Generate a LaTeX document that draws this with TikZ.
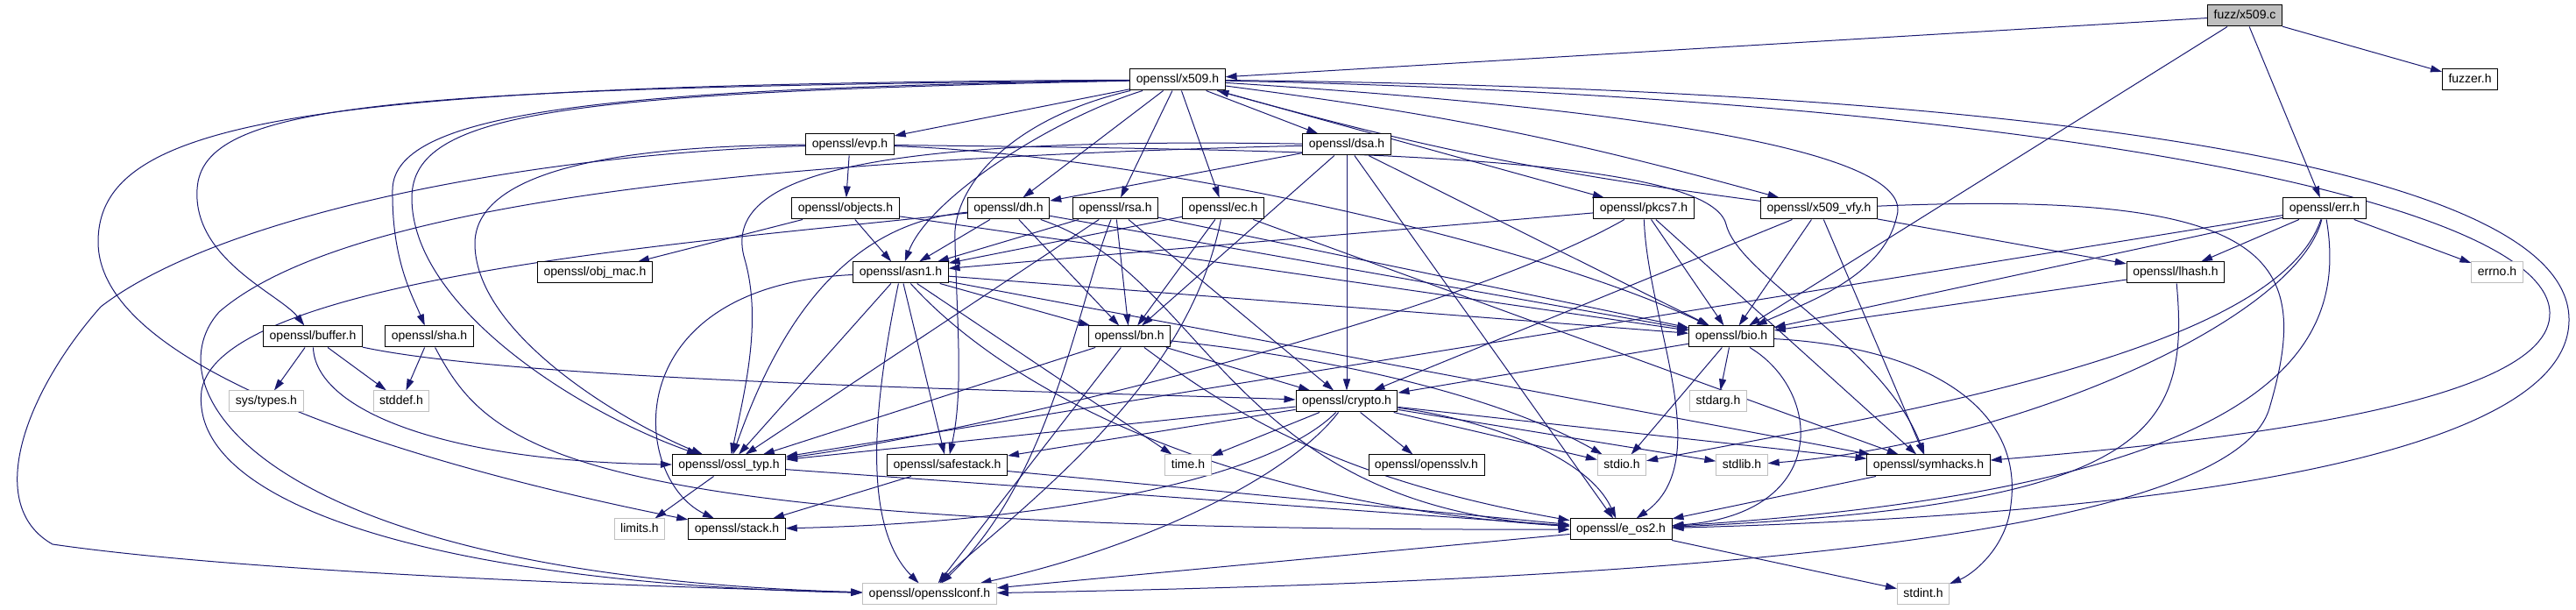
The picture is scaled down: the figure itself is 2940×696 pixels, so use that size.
\documentclass[tikz,border=0pt]{standalone}
\usepackage{fontspec}
\setmainfont{Liberation Sans}
\usetikzlibrary{arrows.meta, backgrounds}
\definecolor{edgeblue}{RGB}{25,25,112}
\definecolor{missgray}{RGB}{191,191,191}

\begin{document}
\begin{tikzpicture}[x=1pt, y=1pt,
    file/.style={draw=black, fill=white, line width=1pt, inner xsep=7pt, inner ysep=0pt,
        minimum height=24pt, text height=10pt, text depth=3pt, font=\fontsize{14}{16}\selectfont},
    sysfile/.style={file, draw=missgray},
    rootfile/.style={file, fill=missgray},
    inc/.style={draw=edgeblue, line width=1pt, -{Triangle[length=13pt, width=8pt]}}]
    \useasboundingbox (0,0) rectangle (2940,696);

    % files, row by row
    \node[rootfile] (fuzzx) at (2562,678) {fuzz/x509.c};
    \node[file] (x509) at (1344,605) {openssl/x509.h};
    \node[file] (fuzzer) at (2819,605) {fuzzer.h};
    \node[file] (evp) at (970,531) {openssl/evp.h};
    \node[file] (dsa) at (1537,531) {openssl/dsa.h};
    \node[file] (objects) at (965,458) {openssl/objects.h};
    \node[file] (dh) at (1151,458) {openssl/dh.h};
    \node[file] (rsa) at (1273,458) {openssl/rsa.h};
    \node[file] (ec) at (1396,458) {openssl/ec.h};
    \node[file] (pkcs7) at (1876,458) {openssl/pkcs7.h};
    \node[file] (xvfy) at (2076,458) {openssl/x509\_vfy.h};
    \node[file] (err) at (2653,458) {openssl/err.h};
    \node[file] (objmac) at (679,385) {openssl/obj\_mac.h};
    \node[file] (asn1) at (1028,385) {openssl/asn1.h};
    \node[file] (lhash) at (2483,385) {openssl/lhash.h};
    \node[sysfile] (errno) at (2850,385) {errno.h};
    \node[file] (buffer) at (357,312) {openssl/buffer.h};
    \node[file] (sha) at (490,312) {openssl/sha.h};
    \node[file] (bn) at (1289,312) {openssl/bn.h};
    \node[file] (bio) at (1976,312) {openssl/bio.h};
    \node[sysfile] (systypes) at (304,238) {sys/types.h};
    \node[sysfile] (stddef) at (458,238) {stddef.h};
    \node[file] (crypto) at (1537,238) {openssl/crypto.h};
    \node[sysfile] (stdarg) at (1961,238) {stdarg.h};
    \node[file] (ossltyp) at (832,165) {openssl/ossl\_typ.h};
    \node[file] (safestack) at (1081,165) {openssl/safestack.h};
    \node[sysfile] (timeh) at (1356,165) {time.h};
    \node[file] (opensslv) at (1628,165) {openssl/opensslv.h};
    \node[sysfile] (stdio) at (1851,165) {stdio.h};
    \node[sysfile] (stdlib) at (1988,165) {stdlib.h};
    \node[file] (symhacks) at (2201,165) {openssl/symhacks.h};
    \node[sysfile] (limits) at (730,92) {limits.h};
    \node[file] (stack) at (841,92) {openssl/stack.h};
    \node[file] (eos2) at (1850,92) {openssl/e\_os2.h};
    \node[sysfile] (conf) at (1061,18) {openssl/opensslconf.h};
    \node[sysfile] (stdint) at (2195,18) {stdint.h};

    \begin{pgfonlayer}{background}
    % fuzz/x509.c
    \draw[inc] (fuzzx) -- (x509);
    \draw[inc] (fuzzx) -- (bio);
    \draw[inc] (fuzzx) -- (err);
    \draw[inc] (fuzzx) -- (fuzzer);

    % openssl/x509.h
    \draw[inc] (x509) -- (evp);
    \draw[inc] (x509) -- (dsa);
    \draw[inc] (x509) -- (dh);
    \draw[inc] (x509) -- (rsa);
    \draw[inc] (x509) -- (ec);
    \draw[inc] (x509) -- (pkcs7);
    \draw[inc] (x509) to[bend left=4] (xvfy);
    \draw[inc] (x509) .. controls (1200,560) and (1060,470) .. (asn1);
    \draw[inc] (x509) .. controls (1150,560) and (1085,480) .. (1090,420) .. controls (1092,330) and (1100,250) .. (safestack);
    \draw[inc] (x509) .. controls (450,595) and (230,580) .. (225,480) .. controls (220,400) and (320,360) .. (buffer);
    \draw[inc] (x509) .. controls (700,595) and (450,570) .. (448,480) .. controls (447,400) and (470,360) .. (sha);
    \draw[inc] (x509) .. controls (650,590) and (470,570) .. (470,470) .. controls (470,350) and (650,230) .. (ossltyp);
    \draw[inc] (x509) .. controls (350,600) and (112,560) .. (112,420) .. controls (112,250) and (600,140) .. (stack);
    \draw[inc] (x509) .. controls (1900,570) and (2185,520) .. (2165,450) .. controls (2150,380) and (2060,350) .. (bio);
    \draw[inc] (x509) .. controls (2300,585) and (2905,470) .. (2910,340) .. controls (2915,230) and (2500,190) .. (symhacks);
    \draw[inc] (x509) .. controls (2300,595) and (2935,510) .. (2932,330) .. controls (2930,180) and (2500,110) .. (eos2);

    % openssl/evp.h
    \draw[inc] (evp) -- (objects);
    \draw[inc] (evp) .. controls (1300,520) and (1750,420) .. (bio);
    \draw[inc] (evp) .. controls (1500,525) and (1950,520) .. (1970,440) .. controls (1985,380) and (2150,300) .. (symhacks);
    \draw[inc] (evp) .. controls (700,530) and (545,500) .. (542,420) .. controls (540,320) and (700,220) .. (ossltyp);
    \draw[inc] (evp) .. controls (600,520) and (250,450) .. (115,346) .. controls (30,250) and (-20,120) .. (60,75) .. controls (300,40) and (800,25) .. (conf);

    % openssl/objects.h
    \draw[inc] (objects) -- (objmac);
    \draw[inc] (objects) -- (asn1);
    \draw[inc] (objects) -- (bio);

    % openssl/dsa.h
    \draw[inc] (dsa) -- (dh);
    \draw[inc] (dsa) -- (bn);
    \draw[inc] (dsa) -- (crypto);
    \draw[inc] (dsa) -- (bio);
    \draw[inc] (dsa) -- (eos2);
    \draw[inc] (dsa) .. controls (1000,540) and (820,500) .. (850,400) .. controls (870,330) and (850,250) .. (ossltyp);
    \draw[inc] (dsa) .. controls (900,515) and (400,470) .. (250,340) .. controls (170,250) and (300,40) .. (conf);

    % openssl/dh.h
    \draw[inc] (dh) -- (asn1);
    \draw[inc] (dh) -- (bn);
    \draw[inc] (dh) -- (bio);
    \draw[inc] (dh) .. controls (1380,380) and (1400,120) .. (eos2);
    \draw[inc] (dh) .. controls (950,440) and (880,300) .. (ossltyp);
    \draw[inc] (dh) .. controls (800,420) and (250,380) .. (230,250) .. controls (215,120) and (500,30) .. (conf);

    % openssl/rsa.h
    \draw[inc] (rsa) -- (asn1);
    \draw[inc] (rsa) -- (bn);
    \draw[inc] (rsa) -- (bio);
    \draw[inc] (rsa) -- (crypto);
    \draw[inc] (rsa) -- (ossltyp);
    \draw[inc] (rsa) .. controls (1230,350) and (1200,150) .. (conf);

    % openssl/ec.h
    \draw[inc] (ec) -- (asn1);
    \draw[inc] (ec) -- (bn);
    \draw[inc] (ec) -- (symhacks);
    \draw[inc] (ec) .. controls (1370,330) and (1300,250) .. (1255,200) .. controls (1180,120) and (1100,60) .. (conf);

    % openssl/pkcs7.h
    \draw[inc] (pkcs7) -- (asn1);
    \draw[inc] (pkcs7) -- (bio);
    \draw[inc] (pkcs7) -- (symhacks);
    \draw[inc] (pkcs7) .. controls (1880,330) and (1960,170) .. (eos2);
    \draw[inc] (pkcs7) .. controls (1650,330) and (1100,200) .. (ossltyp);

    % openssl/x509_vfy.h
    \draw[inc] (xvfy) to[bend left=4] (x509);
    \draw[inc] (xvfy) -- (lhash);
    \draw[inc] (xvfy) -- (bio);
    \draw[inc] (xvfy) -- (crypto);
    \draw[inc] (xvfy) -- (symhacks);
    \draw[inc] (xvfy) .. controls (2600,480) and (2640,400) .. (2590,230) .. controls (2540,60) and (1700,30) .. (conf);

    % openssl/err.h
    \draw[inc] (err) -- (lhash);
    \draw[inc] (err) -- (errno);
    \draw[inc] (err) -- (bio);
    \draw[inc] (err) -- (ossltyp);
    \draw[inc] (err) .. controls (2600,300) and (2200,230) .. (stdio);
    \draw[inc] (err) .. controls (2620,330) and (2300,190) .. (stdlib);
    \draw[inc] (err) .. controls (2680,300) and (2600,140) .. (eos2);

    % openssl/lhash.h
    \draw[inc] (lhash) -- (bio);
    \draw[inc] (lhash) .. controls (2500,200) and (2450,120) .. (eos2);

    % openssl/asn1.h
    \draw[inc] (asn1) -- (bn);
    \draw[inc] (asn1) -- (bio);
    \draw[inc] (asn1) -- (timeh);
    \draw[inc] (asn1) -- (safestack);
    \draw[inc] (asn1) -- (ossltyp);
    \draw[inc] (asn1) -- (symhacks);
    \draw[inc] (asn1) .. controls (1150,250) and (1400,120) .. (eos2);
    \draw[inc] (asn1) .. controls (1000,250) and (980,100) .. (conf);
    \draw[inc] (asn1) .. controls (700,370) and (720,150) .. (stack);

    % openssl/bn.h
    \draw[inc] (bn) -- (crypto);
    \draw[inc] (bn) -- (ossltyp);
    \draw[inc] (bn) -- (conf);
    \draw[inc] (bn) .. controls (1500,290) and (1700,250) .. (stdio);
    \draw[inc] (bn) .. controls (1400,230) and (1520,150) .. (eos2);

    % openssl/bio.h
    \draw[inc] (bio) -- (stdarg);
    \draw[inc] (bio) -- (stdio);
    \draw[inc] (bio) -- (crypto);
    \draw[inc] (bio) .. controls (2080,250) and (2090,110) .. (eos2);
    \draw[inc] (bio) .. controls (2200,300) and (2310,230) .. (2295,120) .. controls (2290,70) and (2250,40) .. (stdint);

    % openssl/crypto.h
    \draw[inc] (crypto) -- (safestack);
    \draw[inc] (crypto) -- (timeh);
    \draw[inc] (crypto) -- (opensslv);
    \draw[inc] (crypto) -- (stdio);
    \draw[inc] (crypto) -- (stdlib);
    \draw[inc] (crypto) -- (symhacks);
    \draw[inc] (crypto) -- (ossltyp);
    \draw[inc] (crypto) .. controls (1470,150) and (1300,70) .. (conf);
    \draw[inc] (crypto) .. controls (1680,220) and (1810,180) .. (eos2);
    \draw[inc] (crypto) .. controls (1450,150) and (1200,100) .. (stack);

    % lower headers
    \draw[inc] (safestack) -- (stack);
    \draw[inc] (safestack) -- (eos2);
    \draw[inc] (ossltyp) -- (limits);
    \draw[inc] (ossltyp) -- (eos2);
    \draw[inc] (symhacks) -- (eos2);
    \draw[inc] (eos2) -- (conf);
    \draw[inc] (eos2) -- (stdint);

    % openssl/buffer.h and openssl/sha.h
    \draw[inc] (buffer) -- (systypes);
    \draw[inc] (buffer) -- (stddef);
    \draw[inc] (buffer) .. controls (360,230) and (500,170) .. (ossltyp);
    \draw[inc] (buffer) .. controls (600,260) and (1200,250) .. (crypto);
    \draw[inc] (sha) -- (stddef);
    \draw[inc] (sha) .. controls (560,180) and (650,90) .. (eos2);
    \end{pgfonlayer}
\end{tikzpicture}
\end{document}
